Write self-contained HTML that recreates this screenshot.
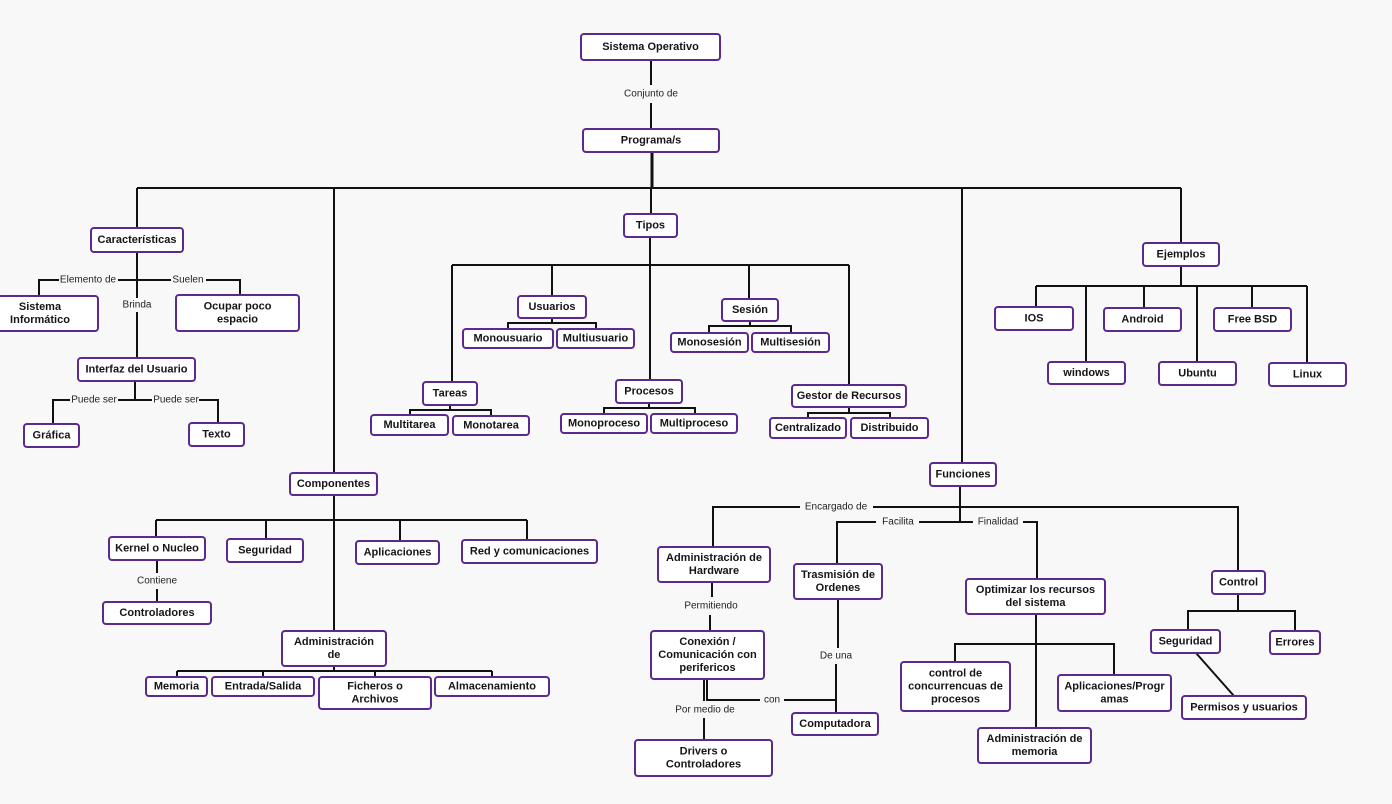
<!DOCTYPE html>
<html><head><meta charset="utf-8"><style>
html,body{margin:0;padding:0;background:#f8f8f9;}
svg{display:block;}
.n rect{fill:#fff;stroke:#5a2a8e;stroke-width:2;}
.n text{font-family:"Liberation Sans",sans-serif;font-weight:bold;font-size:11px;fill:#151515;text-anchor:middle;dominant-baseline:central;}
.l{fill:none;stroke:#111;stroke-width:2;}
.t{font-family:"Liberation Sans",sans-serif;font-size:10px;fill:#222;text-anchor:middle;dominant-baseline:central;}
</style></head><body>
<svg width="1392" height="804" viewBox="0 0 1392 804" xmlns="http://www.w3.org/2000/svg">
<rect x="0" y="0" width="1392" height="804" fill="#f8f8f9"/>
<g class="l">
<path d="M651 60V85M651 103V129"/>
<path d="M652 152V188" stroke-width="3"/>
<path d="M137 188H1181M137 188V228M334 188V473M651 188V214M962 188V463M1181 188V243"/>
<path d="M137 252V298M137 312V358"/>
<path d="M39 296V280H59M118 280H171M206 280H240V295"/>
<path d="M135 381V400M53 424V400H70M118 400H152M199 400H218V423"/>
<path d="M650 237V265M452 265H849M452 265V382M552 265V296M650 265V380M749 265V299M849 265V385"/>
<path d="M552 318V323M508 329V323H596V329"/>
<path d="M750 321V326M709 333V326H791V333"/>
<path d="M450 405V410M410 415V410H491V416"/>
<path d="M649 403V408M604 414V408H695V414"/>
<path d="M849 407V413M808 418V413H890V418"/>
<path d="M1181 266V286M1036 286H1307M1036 286V307M1086 286V362M1144 286V308M1197 286V362M1252 286V308M1307 286V363"/>
<path d="M334 495V631M156 520H527M156 520V537M266 520V539M400 520V541M527 520V540"/>
<path d="M157 560V573M157 589V602"/>
<path d="M334 666V671M177 671H492M177 671V677M263 671V677M375 671V677M492 671V677"/>
<path d="M960 486V522M713 547V507H800M873 507H1238V571"/>
<path d="M837 564V522H876M919 522H973M1023 522H1037V579"/>
<path d="M712 582V597M710 615V631"/>
<path d="M838 599V648M836 664V713"/>
<path d="M707 679V700H760M784 700H836"/>
<path d="M704 679V701M704 718V740"/>
<path d="M1036 614V728M955 662V644H1114V675"/>
<path d="M1238 594V611M1188 630V611H1295V631"/>
<path d="M1196 653L1234 696"/>
</g>
<g class="t">
<text x="651" y="94">Conjunto de</text>
<text x="88" y="280">Elemento de</text>
<text x="188" y="280">Suelen</text>
<text x="137" y="305">Brinda</text>
<text x="94" y="400">Puede ser</text>
<text x="176" y="400">Puede ser</text>
<text x="157" y="581">Contiene</text>
<text x="836" y="507">Encargado de</text>
<text x="898" y="522">Facilita</text>
<text x="998" y="522">Finalidad</text>
<text x="711" y="606">Permitiendo</text>
<text x="836" y="656">De una</text>
<text x="772" y="700">con</text>
<text x="705" y="710">Por medio de</text>
</g>
<g class="n">
<rect x="581" y="34" width="139" height="26" rx="3"/><text x="650.5" y="47">Sistema Operativo</text>
<rect x="583" y="129" width="136" height="23" rx="3"/><text x="651" y="140.5">Programa/s</text>
<rect x="91" y="228" width="92" height="24" rx="3"/><text x="137" y="240">Características</text>
<rect x="-2" y="296" width="100" height="35" rx="3"/><text x="40" y="307">Sistema</text><text x="40" y="320">Informático</text>
<rect x="176" y="295" width="123" height="36" rx="3"/><text x="237.5" y="306.5">Ocupar poco</text><text x="237.5" y="319.5">espacio</text>
<rect x="78" y="358" width="117" height="23" rx="3"/><text x="136.5" y="369.5">Interfaz del Usuario</text>
<rect x="24" y="424" width="55" height="23" rx="3"/><text x="51.5" y="435.5">Gráfica</text>
<rect x="189" y="423" width="55" height="23" rx="3"/><text x="216.5" y="434.5">Texto</text>
<rect x="624" y="214" width="53" height="23" rx="3"/><text x="650.5" y="225.5">Tipos</text>
<rect x="518" y="296" width="68" height="22" rx="3"/><text x="552" y="307">Usuarios</text>
<rect x="463" y="329" width="90" height="19" rx="3"/><text x="508" y="338.5">Monousuario</text>
<rect x="557" y="329" width="77" height="19" rx="3"/><text x="595.5" y="338.5">Multiusuario</text>
<rect x="722" y="299" width="56" height="22" rx="3"/><text x="750" y="310">Sesión</text>
<rect x="671" y="333" width="77" height="19" rx="3"/><text x="709.5" y="342.5">Monosesión</text>
<rect x="752" y="333" width="77" height="19" rx="3"/><text x="790.5" y="342.5">Multisesión</text>
<rect x="423" y="382" width="54" height="23" rx="3"/><text x="450" y="393.5">Tareas</text>
<rect x="371" y="415" width="77" height="20" rx="3"/><text x="409.5" y="425">Multitarea</text>
<rect x="453" y="416" width="76" height="19" rx="3"/><text x="491" y="425.5">Monotarea</text>
<rect x="616" y="380" width="66" height="23" rx="3"/><text x="649" y="391.5">Procesos</text>
<rect x="561" y="414" width="86" height="19" rx="3"/><text x="604" y="423.5">Monoproceso</text>
<rect x="651" y="414" width="86" height="19" rx="3"/><text x="694" y="423.5">Multiproceso</text>
<rect x="792" y="385" width="114" height="22" rx="3"/><text x="849" y="396">Gestor de Recursos</text>
<rect x="770" y="418" width="76" height="20" rx="3"/><text x="808" y="428">Centralizado</text>
<rect x="851" y="418" width="77" height="20" rx="3"/><text x="889.5" y="428">Distribuido</text>
<rect x="1143" y="243" width="76" height="23" rx="3"/><text x="1181" y="254.5">Ejemplos</text>
<rect x="995" y="307" width="78" height="23" rx="3"/><text x="1034" y="318.5">IOS</text>
<rect x="1104" y="308" width="77" height="23" rx="3"/><text x="1142.5" y="319.5">Android</text>
<rect x="1214" y="308" width="77" height="23" rx="3"/><text x="1252.5" y="319.5">Free BSD</text>
<rect x="1048" y="362" width="77" height="22" rx="3"/><text x="1086.5" y="373">windows</text>
<rect x="1159" y="362" width="77" height="23" rx="3"/><text x="1197.5" y="373.5">Ubuntu</text>
<rect x="1269" y="363" width="77" height="23" rx="3"/><text x="1307.5" y="374.5">Linux</text>
<rect x="290" y="473" width="87" height="22" rx="3"/><text x="333.5" y="484">Componentes</text>
<rect x="109" y="537" width="96" height="23" rx="3"/><text x="157" y="548.5">Kernel o Nucleo</text>
<rect x="227" y="539" width="76" height="23" rx="3"/><text x="265" y="550.5">Seguridad</text>
<rect x="356" y="541" width="83" height="23" rx="3"/><text x="397.5" y="552.5">Aplicaciones</text>
<rect x="462" y="540" width="135" height="23" rx="3"/><text x="529.5" y="551.5">Red y comunicaciones</text>
<rect x="103" y="602" width="108" height="22" rx="3"/><text x="157" y="613">Controladores</text>
<rect x="282" y="631" width="104" height="35" rx="3"/><text x="334" y="642">Administración</text><text x="334" y="655">de</text>
<rect x="146" y="677" width="61" height="19" rx="3"/><text x="176.5" y="686.5">Memoria</text>
<rect x="212" y="677" width="102" height="19" rx="3"/><text x="263" y="686.5">Entrada/Salida</text>
<rect x="319" y="677" width="112" height="32" rx="3"/><text x="375" y="686.5">Ficheros o</text><text x="375" y="699.5">Archivos</text>
<rect x="435" y="677" width="114" height="19" rx="3"/><text x="492" y="686.5">Almacenamiento</text>
<rect x="930" y="463" width="66" height="23" rx="3"/><text x="963" y="474.5">Funciones</text>
<rect x="658" y="547" width="112" height="35" rx="3"/><text x="714" y="558">Administración de</text><text x="714" y="571">Hardware</text>
<rect x="794" y="564" width="88" height="35" rx="3"/><text x="838" y="575">Trasmisión de</text><text x="838" y="588">Ordenes</text>
<rect x="651" y="631" width="113" height="48" rx="3"/><text x="707.5" y="642">Conexión /</text><text x="707.5" y="655">Comunicación con</text><text x="707.5" y="668">perifericos</text>
<rect x="792" y="713" width="86" height="22" rx="3"/><text x="835" y="724">Computadora</text>
<rect x="635" y="740" width="137" height="36" rx="3"/><text x="703.5" y="751.5">Drivers o</text><text x="703.5" y="764.5">Controladores</text>
<rect x="966" y="579" width="139" height="35" rx="3"/><text x="1035.5" y="590">Optimizar los recursos</text><text x="1035.5" y="603">del sistema</text>
<rect x="901" y="662" width="109" height="49" rx="3"/><text x="955.5" y="673.5">control de</text><text x="955.5" y="686.5">concurrencuas de</text><text x="955.5" y="699.5">procesos</text>
<rect x="1058" y="675" width="113" height="36" rx="3"/><text x="1114.5" y="686.5">Aplicaciones/Progr</text><text x="1114.5" y="699.5">amas</text>
<rect x="978" y="728" width="113" height="35" rx="3"/><text x="1034.5" y="739">Administración de</text><text x="1034.5" y="752">memoria</text>
<rect x="1212" y="571" width="53" height="23" rx="3"/><text x="1238.5" y="582.5">Control</text>
<rect x="1151" y="630" width="69" height="23" rx="3"/><text x="1185.5" y="641.5">Seguridad</text>
<rect x="1270" y="631" width="50" height="23" rx="3"/><text x="1295" y="642.5">Errores</text>
<rect x="1182" y="696" width="124" height="23" rx="3"/><text x="1244" y="707.5">Permisos y usuarios</text>
</g>
</svg>
</body></html>
